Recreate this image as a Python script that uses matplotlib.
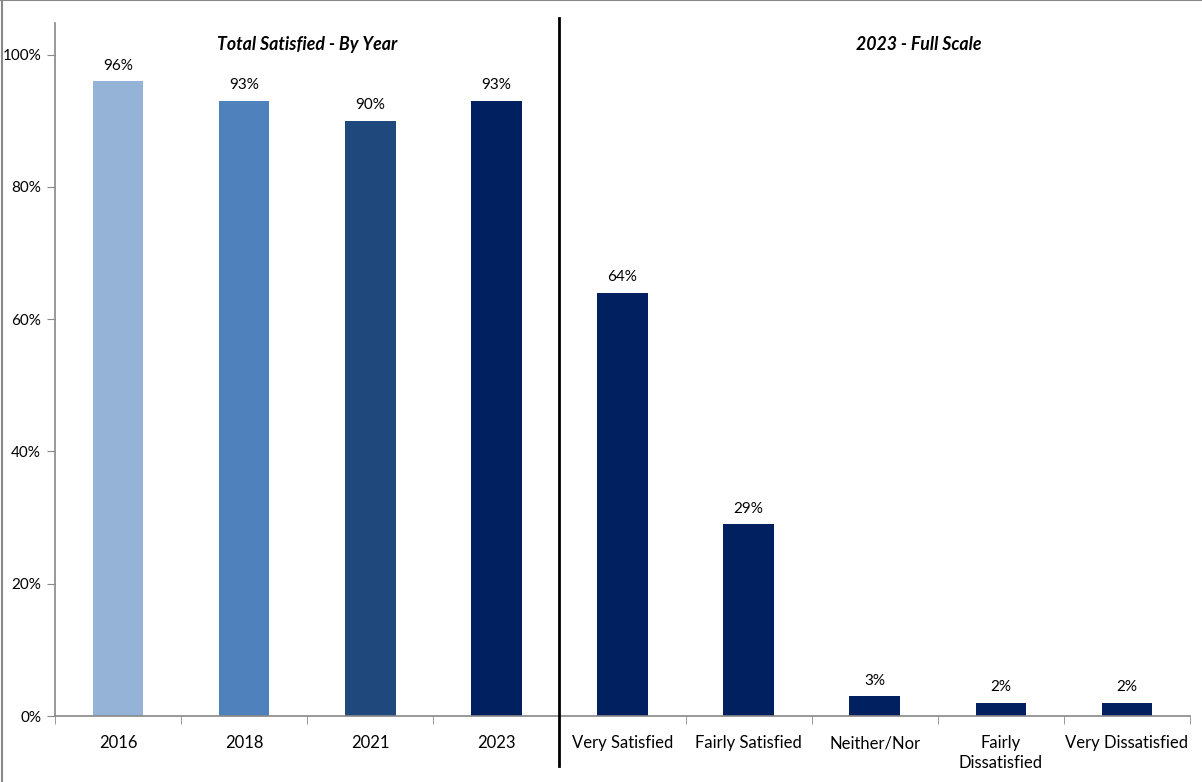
import matplotlib
matplotlib.use("Agg")
import matplotlib.pyplot as plt
from matplotlib.ticker import FuncFormatter

plt.rcParams['font.family'] = ['Lato', 'DejaVu Sans']

# satisfaction by survey year, then the 2023 breakdown
categories = ['2016', '2018', '2021', '2023',
              'Very Satisfied', 'Fairly Satisfied', 'Neither/Nor',
              'Fairly\nDissatisfied', 'Very Dissatisfied']
values = [96, 93, 90, 93, 64, 29, 3, 2, 2]
bar_colors = ['#95B3D7', '#4F81BD', '#1F497D', '#002060',
              '#002060', '#002060', '#002060', '#002060', '#002060']
y_ticks = [0, 20, 40, 60, 80, 100]

fig = plt.figure(figsize=(12.02, 7.82), dpi=100)
ax = fig.add_axes([55 / 1202, 66 / 782, 1135 / 1202, 693 / 782])

x = list(range(len(categories)))
ax.bar(x, values, width=0.4, color=bar_colors, zorder=2)

for xi, v in zip(x, values):
    ax.text(xi, v + 1.3, f'{v}%', ha='center', va='bottom', fontsize=11, color='#000000')

ax.set_xlim(-0.5, len(categories) - 0.5)
ax.set_ylim(0, 104.8)
ax.set_yticks(y_ticks)
ax.yaxis.set_major_formatter(FuncFormatter(lambda v, p: f'{v:.0f}%'))
ax.set_xticks(x)
ax.set_xticklabels(categories, fontsize=12, va='top', linespacing=1.3)
ax.set_xticks([i - 0.5 for i in range(len(categories) + 1)], minor=True)
ax.tick_params(axis='x', which='major', length=0, pad=14)
ax.tick_params(axis='x', which='minor', length=6, color='#888888', direction='out')
ax.tick_params(axis='y', length=6, color='#888888', labelsize=11, pad=4)

for side in ('top', 'right'):
    ax.spines[side].set_visible(False)
for side in ('left', 'bottom'):
    ax.spines[side].set_color('#888888')
    ax.spines[side].set_linewidth(1.2)

# divider between the two sections
ax.plot([3.5, 3.5], [-7.5, 105.5], color='black', lw=2, clip_on=False, zorder=3)

ax.text(1.5, 101.5, 'Total Satisfied - By Year', ha='center', va='center',
        fontsize=12.8, fontweight='bold', style='italic')
ax.text(6.35, 101.5, '2023 - Full Scale', ha='center', va='center',
        fontsize=12.8, fontweight='bold', style='italic')

# outer frame along the top and left edges
fig.add_artist(plt.Line2D([0, 1], [0.9995, 0.9995], color='#888888', lw=1.5, transform=fig.transFigure))
fig.add_artist(plt.Line2D([0.0015, 0.0015], [0, 1], color='#888888', lw=1.5, transform=fig.transFigure))

fig.savefig('out.png', dpi=100)
